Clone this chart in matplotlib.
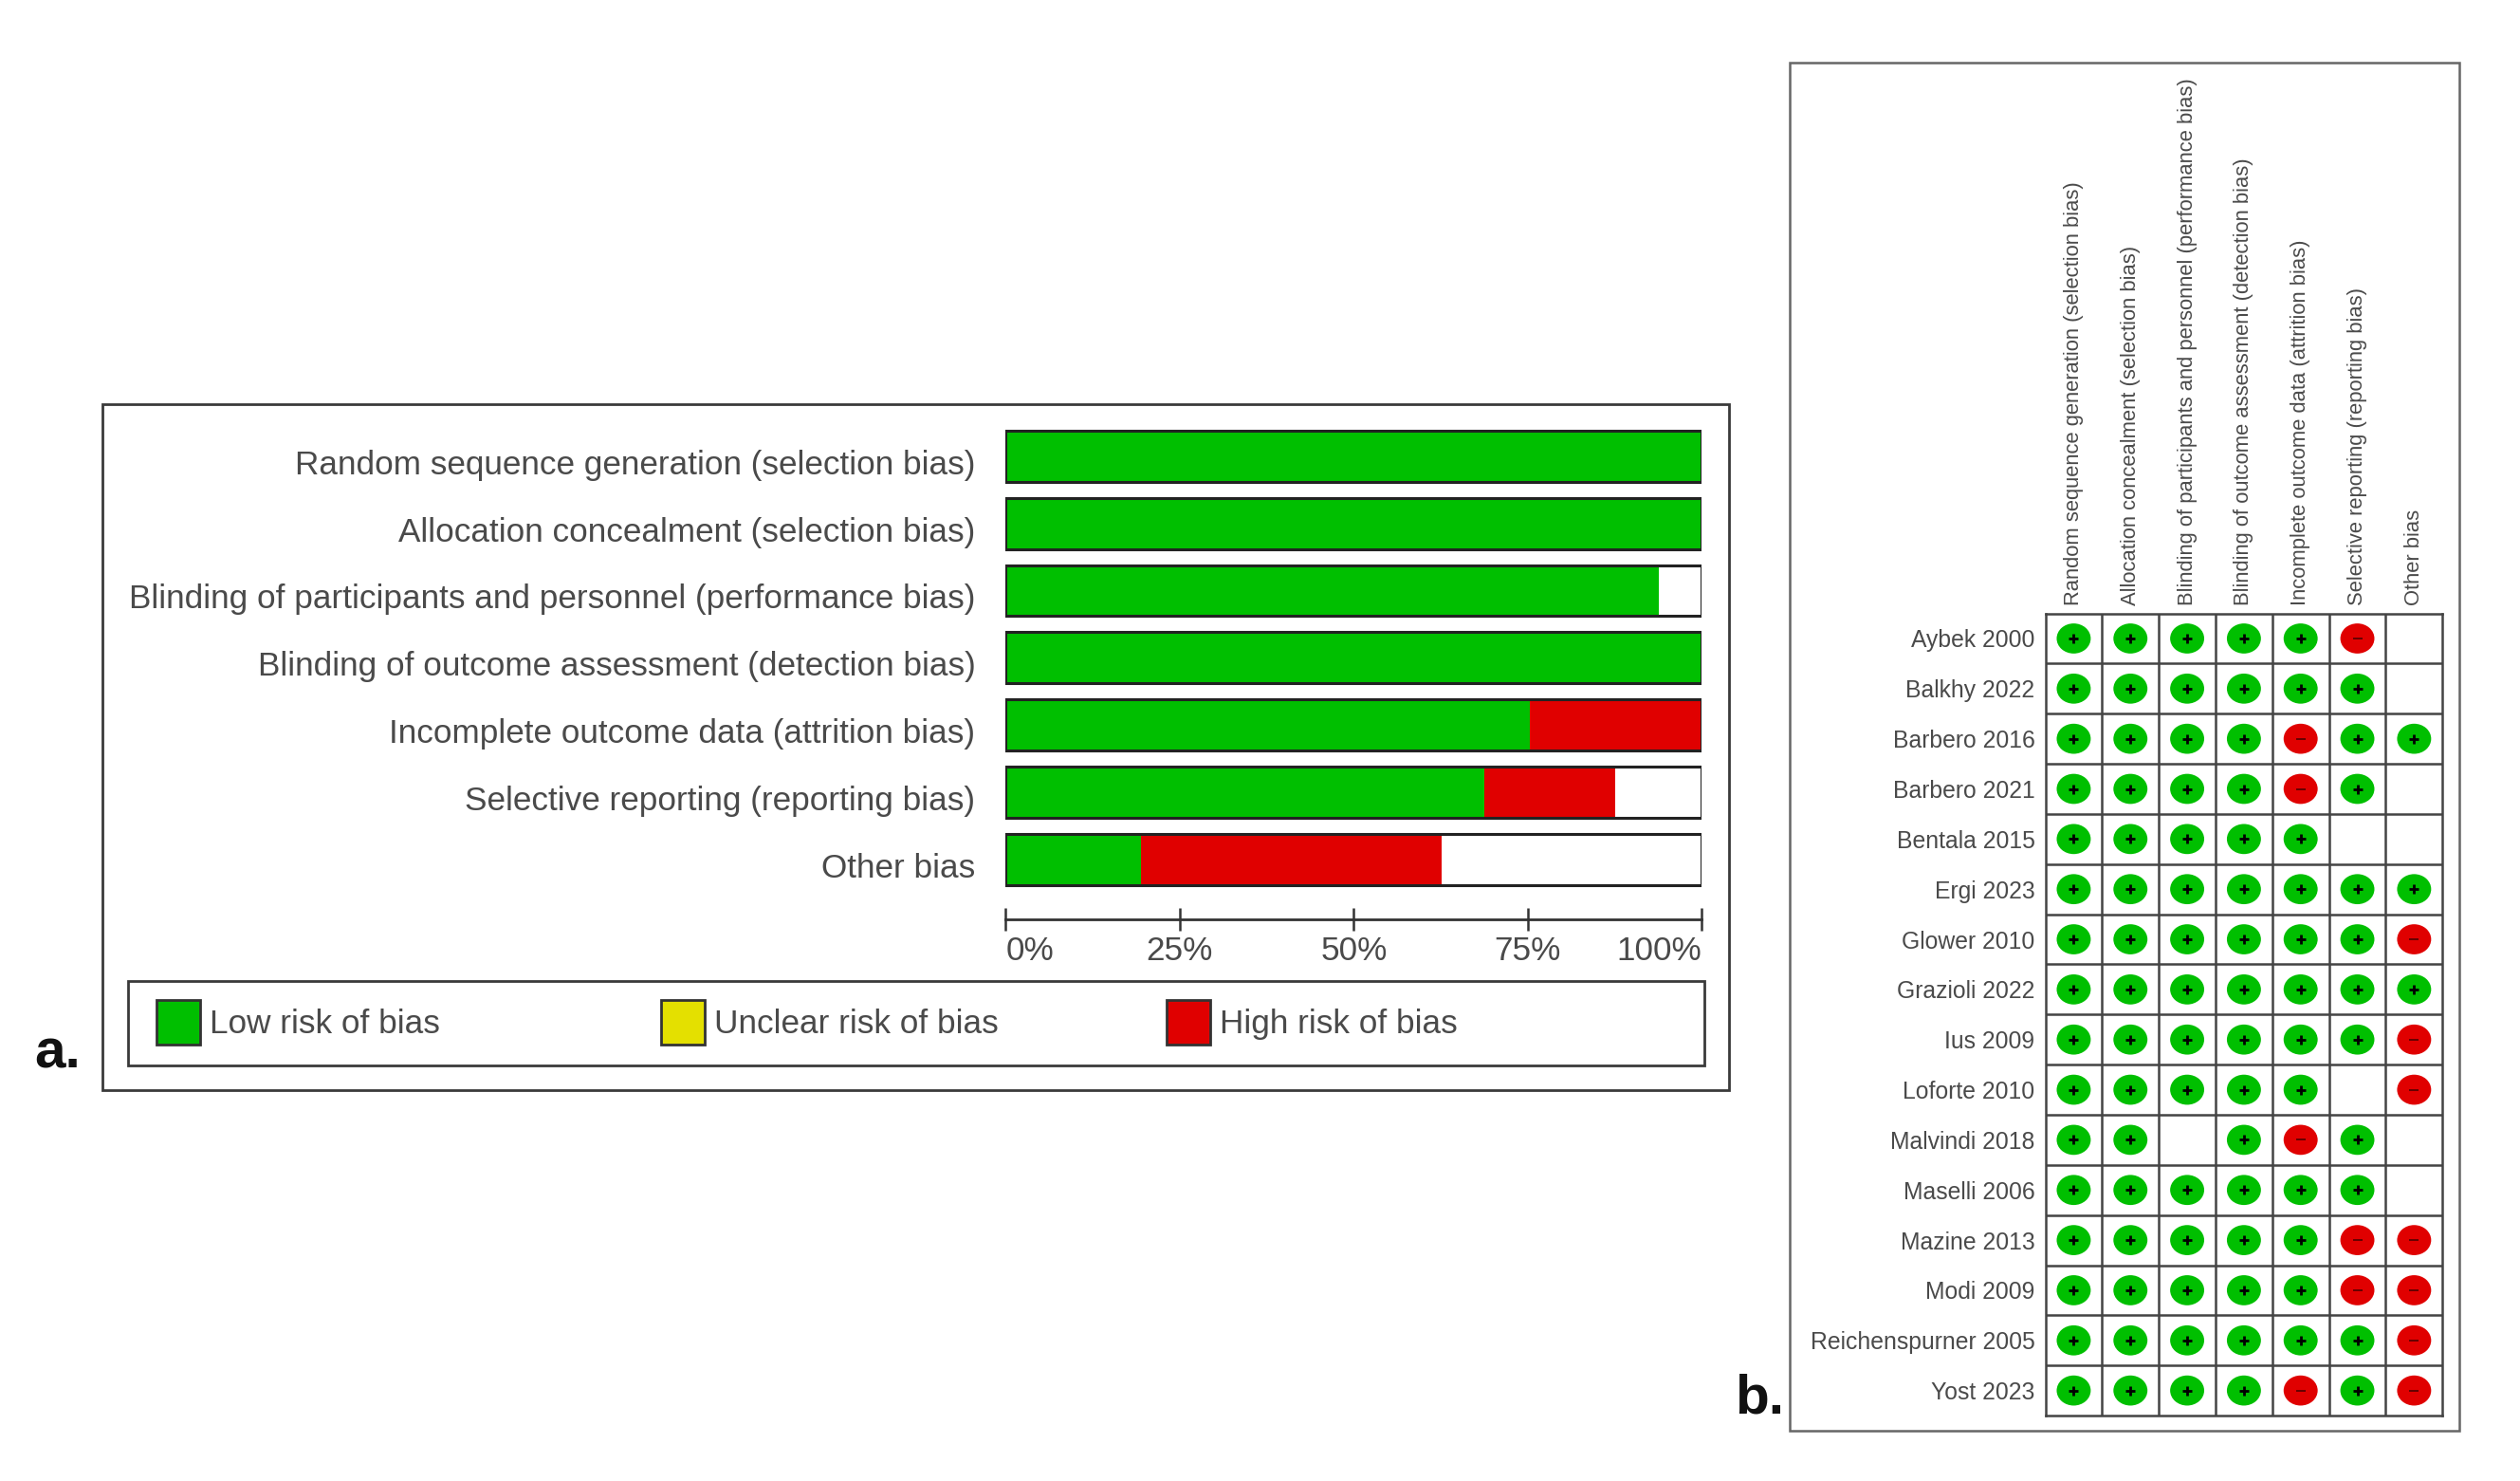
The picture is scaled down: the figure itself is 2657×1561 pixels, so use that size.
import matplotlib
matplotlib.use("Agg")
import matplotlib.pyplot as plt
from matplotlib.patches import Rectangle, Ellipse
from matplotlib.transforms import ScaledTranslation

plt.rcParams['font.family'] = ['Liberation Sans', 'DejaVu Sans']

domains = ["Random sequence generation (selection bias)",
           "Allocation concealment (selection bias)",
           "Blinding of participants and personnel (performance bias)",
           "Blinding of outcome assessment (detection bias)",
           "Incomplete outcome data (attrition bias)",
           "Selective reporting (reporting bias)",
           "Other bias"]
low_pct = [100, 100, 93.75, 100, 75.3, 68.8, 19.4]
high_pct = [0, 0, 0, 0, 24.7, 18.7, 43.2]
x_ticks = [0, 25, 50, 75, 100]
x_labels = ["0%", "25%", "50%", "75%", "100%"]
legend_labels = ["Low risk of bias", "Unclear risk of bias", "High risk of bias"]

studies = ["Aybek 2000", "Balkhy 2022", "Barbero 2016", "Barbero 2021", "Bentala 2015",
           "Ergi 2023", "Glower 2010", "Grazioli 2022", "Ius 2009", "Loforte 2010",
           "Malvindi 2018", "Maselli 2006", "Mazine 2013", "Modi 2009",
           "Reichenspurner 2005", "Yost 2023"]
# one character per domain: + low, - high, space not assessed
judgements = ["+++++- ", "++++++ ", "++++-++", "++++-+ ", "+++++  ",
              "+++++++", "++++++-", "+++++++", "++++++-", "+++++ -",
              "++ +-+ ", "++++++ ", "+++++--", "+++++--", "++++++-", "++++-+-"]

GREEN, RED, YELLOW = '#00BF00', '#E00000', '#E4E000'
TXT = '#4a4a4a'
W, H = 2657, 1561
K = 0.9947
FS = 25.3
fig = plt.figure(figsize=(W / 100, H / 100), dpi=100, facecolor='white')


def px_axes(l, t, r, b, **kw):
    l, t, r, b = l * K, t * K, r * K, b * K
    return fig.add_axes([l / W, 1 - b / H, (r - l) / W, (b - t) / H], **kw)


def frame(l, t, r, b, color, lw):
    l, t, r, b = l * K, t * K, r * K, b * K
    fig.add_artist(Rectangle((l / W, 1 - b / H), (r - l) / W, (b - t) / H, transform=fig.transFigure,
                             fill=False, edgecolor=color, linewidth=lw))


# panel frames
frame(109, 428, 1833, 1155, '#3a3a3a', 2.0)
frame(1897, 66, 2607, 1516, '#666666', 1.8)
frame(136, 1040, 1807, 1129, '#3a3a3a', 2.0)

# ---------- panel a: summary bars
axa = px_axes(1066, 447, 1804, 974)
axa.patch.set_alpha(0)
axa.set_xlim(0, 100)
axa.set_ylim(6.89, -0.51)
ypos = list(range(len(domains)))
axa.barh(ypos, low_pct, height=0.76, color=GREEN, linewidth=0, zorder=2)
axa.barh(ypos, high_pct, left=low_pct, height=0.76, color=RED, linewidth=0, zorder=2)
axa.barh(ypos, [100] * 7, height=0.76, facecolor='none', edgecolor='#222222', linewidth=2.2, zorder=3)
for s in ['top', 'left', 'right']:
    axa.spines[s].set_visible(False)
axa.spines['bottom'].set_color('#333333')
axa.spines['bottom'].set_linewidth(2.0)
axa.set_yticks(ypos)
axa.set_yticklabels(domains, fontsize=FS, color=TXT)
axa.tick_params(axis='y', length=0, pad=23)
shift = ScaledTranslation(0, -6 / 100, fig.dpi_scale_trans)
for lab in axa.get_yticklabels():
    lab.set_transform(lab.get_transform() + shift)
axa.set_xticks(x_ticks)
axa.set_xticklabels(x_labels, fontsize=FS, color=TXT)
axa.tick_params(axis='x', direction='inout', length=17, width=1.8, color='#333333', pad=4)
axa.get_xticklabels()[0].set_ha('left')
axa.get_xticklabels()[-1].set_ha('right')

# legend
axl = px_axes(136, 1040, 1807, 1129)
axl.axis('off')
axl.set_xlim(136, 1807)
axl.set_ylim(1129, 1040)
for xs, col, lab in zip([166, 701, 1237], [GREEN, YELLOW, RED], legend_labels):
    axl.add_patch(Rectangle((xs, 1060), 46, 47, facecolor=col, edgecolor='#333333', linewidth=2))
    axl.text(xs + 56, 1085, lab, fontsize=FS, color=TXT, va='center', ha='left')

# ---------- panel b: traffic lights
axb = px_axes(2168, 650, 2589, 1500)
axb.set_xlim(0, len(domains))
axb.set_ylim(len(studies), 0)
for s in axb.spines.values():
    s.set_color('#444444')
    s.set_linewidth(1.8)
axb.set_xticks([i + 0.5 for i in range(len(domains))])
axb.set_xticklabels(domains, rotation=90, fontsize=15.85, color=TXT, va='bottom', ha='center')
axb.xaxis.tick_top()
axb.set_yticks([i + 0.5 for i in range(len(studies))])
axb.set_yticklabels(studies, fontsize=17.8, color=TXT)
axb.tick_params(axis='both', length=0)
axb.tick_params(axis='x', pad=6)
axb.tick_params(axis='y', pad=8)
axb.set_xticks(range(1, len(domains)), minor=True)
axb.set_yticks(range(1, len(studies)), minor=True)
axb.grid(which='minor', color='#444444', linewidth=1.8)
axb.tick_params(which='minor', length=0)
axb.set_axisbelow(True)
for r, row in enumerate(judgements):
    for c, j in enumerate(row):
        if j == ' ':
            continue
        col = GREEN if j == '+' else RED
        axb.add_patch(Ellipse((c + 0.5, r + 0.5), 0.6, 0.6, facecolor=col, edgecolor='none', zorder=3))
        axb.plot(c + 0.5, r + 0.5, marker='+' if j == '+' else '_', ms=7, mew=2 if j == '+' else 1.4,
                 color='#000000' if j == '+' else '#660000', zorder=4, ls='none')

# panel letters
fig.text(36 / W, 1 - 1125 / H, "a.", fontsize=42, fontweight='bold', color='#111111', va='baseline')
fig.text(1829 / W, 1 - 1490 / H, "b.", fontsize=42, fontweight='bold', color='#111111', va='baseline')

fig.savefig('out.png', dpi=100, facecolor='white')
